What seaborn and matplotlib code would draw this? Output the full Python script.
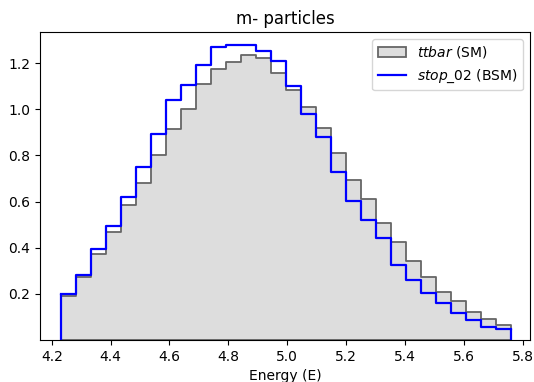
import numpy as np
import pandas as pd
import matplotlib
matplotlib.use("Agg")
import matplotlib.pyplot as plt
import seaborn as sns

# ------------------------------
# Data (normalised bin heights)
# ------------------------------
e_min, e_max, n_bins = 4.23, 5.76, 30

ttbar_heights = [0.190, 0.275, 0.374, 0.468, 0.583, 0.681, 0.801, 0.916, 1.000, 1.109,
                 1.174, 1.204, 1.235, 1.222, 1.158, 1.084, 1.012, 0.920, 0.812, 0.693,
                 0.609, 0.507, 0.425, 0.343, 0.275, 0.210, 0.167, 0.123, 0.090, 0.065]

stop_heights = [0.199, 0.280, 0.396, 0.496, 0.619, 0.749, 0.894, 1.042, 1.107, 1.194,
                1.272, 1.280, 1.278, 1.254, 1.210, 1.101, 0.981, 0.878, 0.729, 0.604,
                0.522, 0.442, 0.326, 0.258, 0.203, 0.159, 0.116, 0.087, 0.058, 0.046]

edges = np.linspace(e_min, e_max, n_bins + 1)
centers = 0.5 * (edges[:-1] + edges[1:])
bin_list = [float(b) for b in edges]

df = pd.DataFrame({
    "energy": np.concatenate([centers, centers]),
    "height": ttbar_heights + stop_heights,
    "sample": ["ttbar"] * n_bins + ["stop_02"] * n_bins,
})

# ------------------------------
# Plot
# ------------------------------
fig, ax = plt.subplots(figsize=(5.34, 3.82), dpi=100)
fig.subplots_adjust(left=40 / 534, right=530 / 534, top=1 - 32 / 382, bottom=1 - 340 / 382)

sns.histplot(data=df[df["sample"] == "ttbar"], x="energy", weights="height", bins=bin_list,
             element="step", fill=True, color="#dddddd", alpha=1.0,
             edgecolor="#666666", linewidth=1.3, label=r"$\it{ttbar}$ (SM)", ax=ax)
sns.histplot(data=df[df["sample"] == "stop_02"], x="energy", weights="height", bins=bin_list,
             element="step", fill=False, color="blue", linewidth=1.6,
             label=r"$\it{stop}$_02 (BSM)", ax=ax)

# close the blue step outline down to the baseline at both ends (like histtype='step')
ax.vlines([edges[0], edges[-1]], 0, [stop_heights[0], stop_heights[-1]],
          color="blue", linewidth=1.6)

ax.set_xlim(4.16, 5.825)
ax.set_ylim(0, 1.335)
ax.set_xticks(np.arange(4.2, 5.81, 0.2))
ax.set_yticks([0.2, 0.4, 0.6, 0.8, 1.0, 1.2])
ax.set_xlabel("Energy (E)")
ax.set_ylabel("")
ax.set_title("m- particles")
ax.legend(loc="upper right")

fig.savefig("out.png", dpi=100)
